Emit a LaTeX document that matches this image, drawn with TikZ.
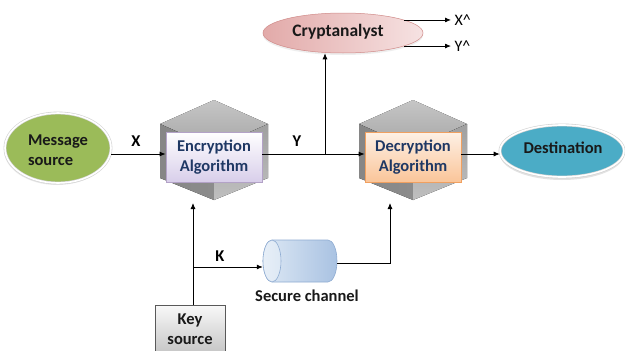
\documentclass[tikz,border=0pt]{standalone}
\usepackage{fontspec}
\setmainfont{Carlito}
\usetikzlibrary{arrows.meta,shapes.geometric,shadows}
\definecolor{msggreen}{HTML}{9BBB59}
\definecolor{destblue}{HTML}{4BACC6}
\definecolor{navy}{HTML}{1F3864}
\definecolor{cryptL}{HTML}{E2AAA9}
\definecolor{cryptR}{HTML}{F6E2E2}
\definecolor{cryptB}{HTML}{D08A88}
\definecolor{encB}{HTML}{D8CEEA}
\definecolor{encD}{HTML}{B3A2C7}
\definecolor{decB}{HTML}{FAC599}
\definecolor{decD}{HTML}{F0A060}
\definecolor{chanL}{HTML}{DDE8F4}
\definecolor{chanR}{HTML}{A9C2E2}
\definecolor{chanD}{HTML}{8FACD2}
\tikzset{
  txt/.style={font=\fontsize{16.5}{20}\selectfont\bfseries, align=center},
  arr/.style={-{Latex[length=6pt,width=5pt]}, line width=0.8pt, black},
  ln/.style={line width=0.8pt, black},
  ring/.style={draw=gray!35, double=white, double distance=1.6pt, line width=0.6pt},
  topface/.style={top color=gray!45, bottom color=gray!70, draw=none},
  leftface/.style={left color=gray!95, right color=gray!90, draw=none},
  rightface/.style={top color=gray!75, bottom color=gray!50, draw=none},
  algbox/.style={rectangle, minimum width=96pt, minimum height=50pt, line width=0.8pt, txt, text=navy}
}
\newcommand\mycube[1]{%
  \begin{scope}[shift={(#1,0)}]
    \fill[topface] (0,100) -- (54,124) -- (0,148) -- (-54,124) -- cycle;
    \fill[leftface] (-54,124) -- (0,148) -- (0,200) -- (-54,178) -- cycle;
    \fill[rightface] (0,148) -- (54,124) -- (54,178) -- (0,200) -- cycle;
  \end{scope}}
\begin{document}
\begin{tikzpicture}[x=1pt,y=-1pt]
\useasboundingbox (0,0) rectangle (625,351);
\fill[white] (0,0) rectangle (625,351);

% cubes
\mycube{214}
\mycube{413}

% nodes
\node[ellipse, minimum width=106pt, minimum height=70pt, ring, fill=msggreen,
      drop shadow={shadow xshift=-1pt, shadow yshift=-2pt, fill=gray!35}] (msg) at (58,148) {};
\node[txt, align=left, text=black!90] (msgt) at (58,150) {Message\\source};

\node[algbox, draw=encD, top color=white, bottom color=encB] (enc) at (214,157) {Encryption\\Algorithm};
\node[algbox, draw=decD, top color=decB!25, bottom color=decB] (dec) at (413,157) {Decryption\\Algorithm};

\node[ellipse, minimum width=124pt, minimum height=52pt, ring, fill=destblue,
      drop shadow={shadow xshift=0pt, shadow yshift=-3pt, fill=gray!45}] (dest) at (562,151) {};
\node[txt, text=black!90] (destt) at (563,148) {Destination};

\node[ellipse, minimum width=160pt, minimum height=40pt, draw=cryptB, line width=0.5pt,
      left color=cryptL, right color=cryptR,
      drop shadow={shadow xshift=0pt, shadow yshift=-2pt, fill=gray!25}] (crypt) at (343,33) {};
\node[txt, font=\fontsize{17.5}{20}\selectfont\bfseries, text=black!90] (cryptt) at (338,32) {Cryptanalyst};

\node[rectangle, minimum width=70pt, minimum height=48pt, draw=gray!70!black, line width=0.6pt,
      top color=gray!5, bottom color=gray!45, txt, text=black!90] (key) at (190,329) {Key\\source};

% secure channel cylinder
\node[minimum width=74pt, minimum height=42pt, inner sep=0pt] (chan) at (300,261) {};
\shade[left color=chanL, right color=chanR, draw=chanD, line width=0.6pt]
  (272,240) -- (328,240) arc[start angle=-90, end angle=90, x radius=9pt, y radius=-21pt]
  -- (272,282) arc[start angle=90, end angle=270, x radius=9pt, y radius=-21pt] -- cycle;
\shade[left color=chanL!70!white, right color=chanL, draw=chanD, line width=0.6pt]
  (272,261) ellipse[x radius=9pt, y radius=21pt];
\node[txt, text=black!90] (chant) at (307,296) {Secure channel};

% labels
\node[txt] (lx) at (136,141) {X};
\node[txt] (ly) at (297,141) {Y};
\node[txt] (lk) at (220,256) {K};
\node[font=\fontsize{16}{18}\selectfont, anchor=west] (xh) at (451,20) {X\textasciicircum};
\node[font=\fontsize{16}{18}\selectfont, anchor=west] (yh) at (451,46) {Y\textasciicircum};

% coordinates
\coordinate (r1) at (0,154);
\coordinate (r2) at (0,263);
\coordinate (yb) at (325,154);
\coordinate (kt) at (193,203);
\coordinate (kb) at (193,267);
\coordinate (dt) at (390,203);

% connectors
\draw[arr] (msg.east |- r1) -- (enc.west |- r1);
\draw[ln] (enc.east |- r1) -- (yb);
\draw[arr] (yb) -- (dec.west |- r1);
\draw[arr] (yb) -- (yb |- crypt.south);
\draw[arr] (dec.east |- r1) -- (dest.west |- r1);
\draw[arr] (crypt.12) -- (crypt.12 -| xh.west);
\draw[arr] (crypt.-12) -- (crypt.-12 -| yh.west);
\draw[arr] (key.north -| kt) -- (kt);
\draw[arr] (kb) -- (kb -| chan.west);
\draw[arr] (chan.east |- r2) -| (dt);
\end{tikzpicture}
\end{document}
